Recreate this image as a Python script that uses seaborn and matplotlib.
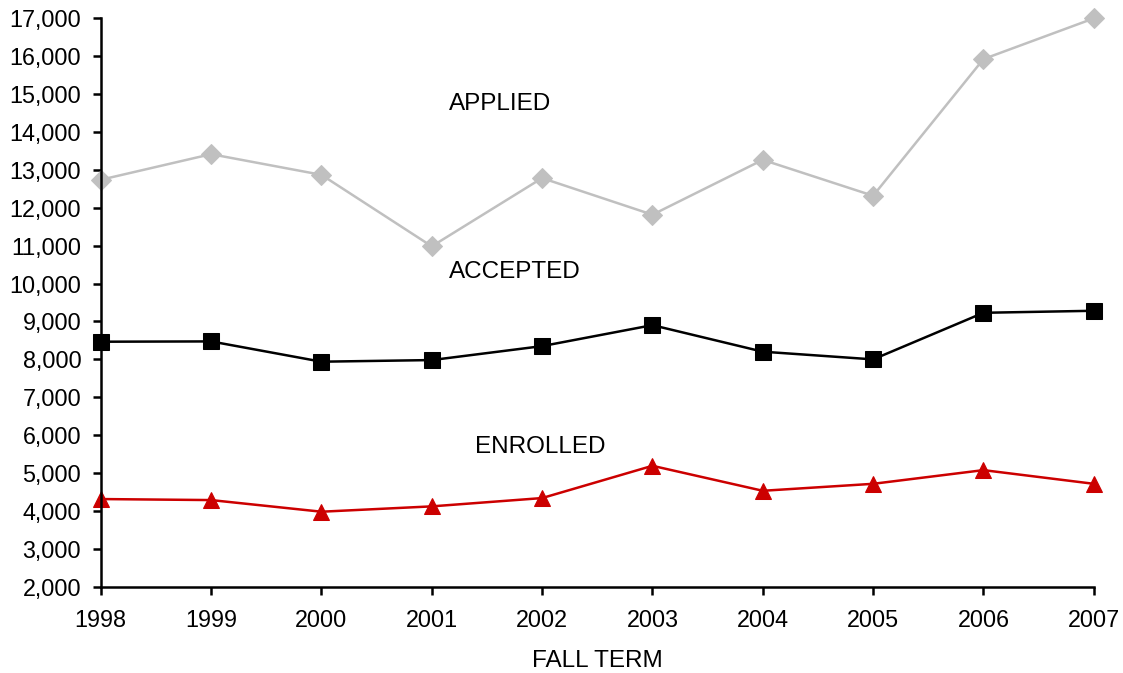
import pandas as pd
import matplotlib
matplotlib.use("Agg")
import matplotlib.pyplot as plt
import seaborn as sns

# =====================================
# DATA
# =====================================
years = [1998, 1999, 2000, 2001, 2002, 2003, 2004, 2005, 2006, 2007]
applied = [12737, 13413, 12868, 10982, 12782, 11816, 13263, 12316, 15921, 16995]
accepted = [8466, 8474, 7939, 7982, 8350, 8903, 8203, 8000, 9229, 9282]
enrolled = [4316, 4289, 3982, 4123, 4342, 5193, 4534, 4718, 5079, 4718]

series_names = ["APPLIED", "ACCEPTED", "ENROLLED"]
y_ticks = list(range(2000, 17001, 1000))

# label anchor points (data coords)
label_x = [2001.16, 2001.16, 2001.39]
label_y = [14737, 10316, 5684]

sns.set_style("ticks")
plt.rcParams["font.family"] = ["Liberation Sans", "DejaVu Sans"]

fig = plt.figure(figsize=(11.23, 6.73), dpi=100)
ax = fig.add_axes([0.0897, 0.128, 0.8843, 0.845])

styles = [
    ("#C0C0C0", "D", 10),
    ("#000000", "s", 11.5),
    ("#CC0000", "^", 11.5),
]

for values, (color, marker, msize) in zip([applied, accepted, enrolled], styles):
    df = pd.DataFrame({"year": years, "value": values})
    sns.lineplot(
        data=df,
        x="year",
        y="value",
        color=color,
        marker=marker,
        markersize=msize,
        markeredgecolor=color,
        linewidth=1.8,
        ax=ax,
        clip_on=False,
    )

for name, lx, ly in zip(series_names, label_x, label_y):
    ax.text(lx, ly, name, fontsize=17.5, va="center", ha="left", color="black")

ax.set_xlim(years[0], years[-1])
ax.set_ylim(y_ticks[0], y_ticks[-1])
ax.set_xticks(years)
ax.set_yticks(y_ticks)
ax.set_yticklabels([f"{v:,}" for v in y_ticks])

ax.set_xlabel("FALL TERM", fontsize=17.5, labelpad=13, color="black")
ax.set_ylabel("")

ax.tick_params(axis="both", labelsize=16.8, direction="out", length=6, width=1.8,
               color="black", labelcolor="black")
ax.tick_params(axis="x", pad=10)
ax.tick_params(axis="y", pad=8)

for side in ["top", "right"]:
    ax.spines[side].set_visible(False)
for side in ["left", "bottom"]:
    ax.spines[side].set_linewidth(1.8)
    ax.spines[side].set_color("black")

fig.savefig("out.png", dpi=100)
